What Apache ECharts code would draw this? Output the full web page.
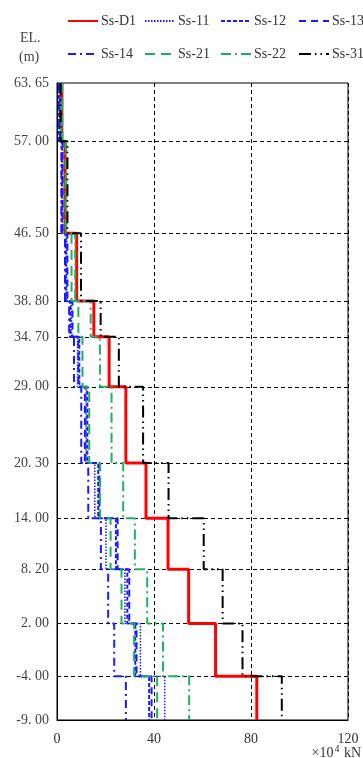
<!DOCTYPE html>
<html><head><meta charset="utf-8">
<script src="https://cdn.jsdelivr.net/npm/echarts@6/dist/echarts.min.js"></script>
<style>html,body{margin:0;padding:0;background:#fff}#c{width:363px;height:758px}</style>
</head><body><div id="c"></div>
<script>
const elevations = [63.65, 57.00, 46.50, 38.80, 34.70, 29.00, 20.30, 14.00, 8.20, 2.00, -4.00, -9.00];
const xTicks = [0, 40, 80, 120];
const seriesNames = ['Ss-D1','Ss-11','Ss-12','Ss-13','Ss-14','Ss-21','Ss-22','Ss-31'];
const ssD1 = [2.0, 3.3, 8.1, 15.2, 21.5, 28.4, 36.7, 45.8, 54.3, 65.4, 82.4];
const ss11 = [1.0, 2.2, 4.0, 6.0, 8.5, 12.0, 15.6, 20.2, 28.0, 34.4, 44.4];
const ss12 = [0.9, 2.0, 3.6, 5.5, 9.2, 12.5, 17.0, 24.3, 29.0, 32.3, 38.0];
const ss13 = [1.2, 2.3, 4.3, 6.4, 8.8, 11.5, 17.5, 25.0, 29.8, 32.8, 39.0];
const ss14 = [0.8, 1.8, 3.3, 5.0, 7.0, 10.0, 12.9, 18.1, 21.1, 23.6, 28.4];
const ss21 = [2.2, 3.8, 6.0, 8.8, 10.5, 13.3, 17.8, 22.1, 26.6, 31.8, 41.3];
const ss22 = [1.8, 3.5, 7.5, 13.9, 17.7, 22.5, 27.3, 32.1, 37.2, 43.7, 54.5];
const ss31 = [1.5, 4.3, 9.9, 18.0, 25.5, 35.5, 46.0, 60.5, 68.3, 76.5, 92.7];

const values = [ssD1, ss11, ss12, ss13, ss14, ss21, ss22, ss31];
const styles = [
  {color:'#ff0000', width:3, type:'solid'},
  {color:'#1a1aff', width:1.5, type:[1.5,1.5]},
  {color:'#1a1aff', width:2, type:[4,2]},
  {color:'#1a1aff', width:2, type:[7,5]},
  {color:'#1a1aff', width:2, type:[8,4,2,4]},
  {color:'#20b060', width:2, type:[10,6]},
  {color:'#20b060', width:2, type:[10,4,2,4]},
  {color:'#000000', width:2, type:[12,4,1.5,4,1.5,4]}
];
function stepPoints(v){
  const pts=[];
  for(let i=0;i<v.length;i++){ pts.push([v[i], elevations[i]]); pts.push([v[i], elevations[i+1]]); }
  return pts;
}
const serif = '"Liberation Serif", "DejaVu Serif", serif';
const series = [{
  type:'line', data:[], silent:true, z:1,
  markLine:{silent:true, symbol:'none', label:{show:false},
    lineStyle:{color:'#000', type:[4,3], width:1},
    data: elevations.slice(1,-1).map(e=>({yAxis:e}))}
}];
seriesNames.forEach((n,i)=>{
  series.push({name:n, type:'line', data:stepPoints(values[i]), symbol:'none', showSymbol:false,
    lineStyle:styles[i], itemStyle:{color:styles[i].color}, z: 10});
});
const legLefts=[62,139,215,293];
const legends = seriesNames.map((n,i)=>({data:[n], left:legLefts[i%4], top: i<4 ? 9 : 42,
  itemWidth:30, itemHeight:14, itemGap:4,
  itemStyle:{opacity:0},
  textStyle:{fontFamily:serif, fontSize:14, color:'#333', padding:[0,0,0,-2]}}));
const chart = echarts.init(document.getElementById('c'), null, {renderer:'canvas'});
chart.setOption({
  animation:false,
  backgroundColor:'#fff',
  legend: legends,
  grid:{left:57, right:15, top:83, bottom:38, show:true, borderColor:'#000', borderWidth:1},
  xAxis:{type:'value', min:0, max:120, interval:40,
    axisLine:{onZero:false, lineStyle:{color:'#000'}}, axisTick:{show:false},
    axisLabel:{fontFamily:serif, fontSize:14, color:'#333', margin:12,
      customValues: xTicks},
    splitLine:{show:true, lineStyle:{color:'#000', type:[4,3], width:1}}},
  yAxis:{type:'value', min:-9, max:63.65,
    axisLine:{show:true, onZero:false, lineStyle:{color:'#000'}}, axisTick:{show:false},
    splitLine:{show:false},
    axisLabel:{fontFamily:serif, fontSize:14, color:'#444', margin:8, customValues: elevations,
      formatter:v=>Number(v).toFixed(2).replace('.', '. ')}},
  graphic:[
    {type:'text', left:20, top:31, style:{text:'EL.', font:'14px '+serif, fill:'#444'}},
    {type:'text', left:19, top:50, style:{text:'(m)', font:'14px '+serif, fill:'#444'}},
    {type:'text', right:2, top:744, style:{text:'×10{s|4} kN', font:'14px '+serif, fill:'#333',
      rich:{s:{fontSize:10, verticalAlign:'top', padding:[0,1,8,1], fontFamily:serif, fill:'#333'}}}}
  ],
  series: series
});
</script></body></html>
